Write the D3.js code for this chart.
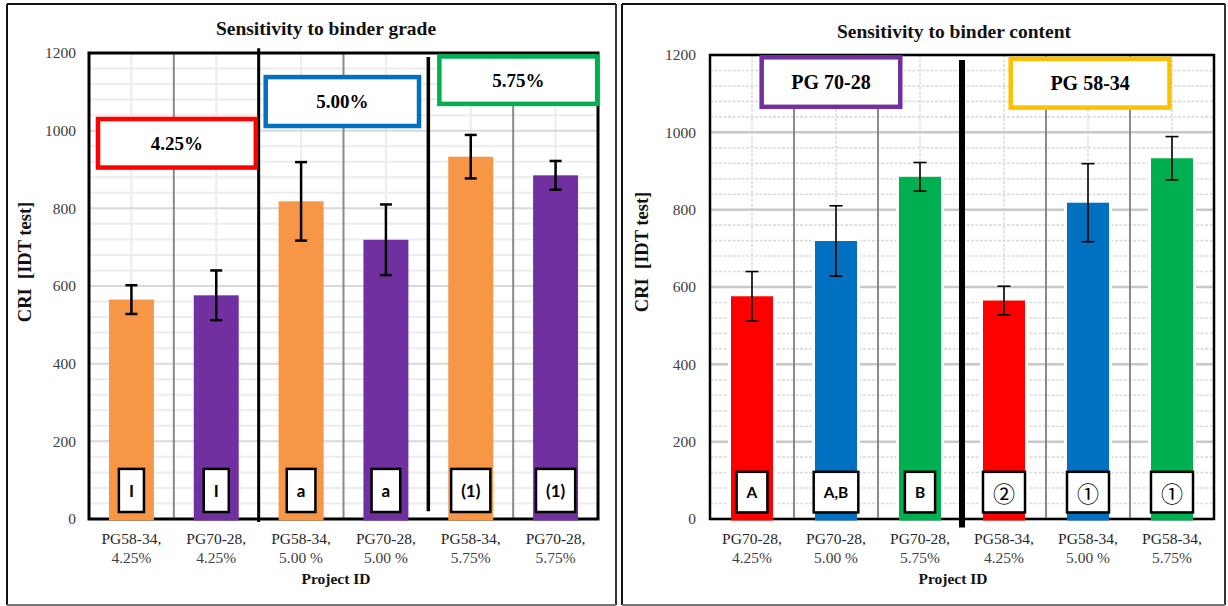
<!DOCTYPE html>
<html>
<head>
<meta charset="utf-8">
<script src="https://cdn.jsdelivr.net/npm/d3@7"></script>
<style>
  body { margin: 0; background: #fff; }
  svg { display: block; }
  text { font-family: "Liberation Serif", "Times New Roman", serif; }
</style>
</head>
<body>
<svg id="chart" width="1228" height="606"></svg>
<script>
// ---- data -------------------------------------------------------------
const binders = ["PG58-34", "PG70-28"];
const contents = ["4.25%", "5.00 %", "5.75%"];
const contentTags = ["4.25%", "5.00%", "5.75%"];
const binderTags = ["PG 70-28", "PG 58-34"];

// mean CRI and error half-width per binder content (4.25, 5.00, 5.75 %)
const criPG5834 = [565, 818, 933];
const errPG5834 = [37, 101, 56];
const criPG7028 = [576, 719, 885];
const errPG7028 = [64, 91, 37];

// statistical grouping letters
const gradeGroups = ["I", "a", "(1)"];
const contentGroupsPG7028 = ["A", "A,B", "B"];
const contentGroupsPG5834 = ["②", "①", "①"];

const yTicks = [0, 200, 400, 600, 800, 1000, 1200];

// ---- styling ----------------------------------------------------------
const binderColour = { "PG58-34": "#f79646", "PG70-28": "#7030a0" };
const contentColour = ["#ff0000", "#0070c0", "#00b050"];
const binderBoxColour = ["#7030a0", "#ffc000"];

const svg = d3.select("#chart");

// outer panel frames
function panelFrame(x0, y0, x1, y1) {
  const g = svg.append("g");
  g.append("line").attr("x1", x0).attr("y1", y0).attr("x2", x1).attr("y2", y0)
    .attr("stroke", "#111").attr("stroke-width", 2);
  g.append("line").attr("x1", x0).attr("y1", y0).attr("x2", x0).attr("y2", y1)
    .attr("stroke", "#111").attr("stroke-width", 2);
  g.append("line").attr("x1", x1).attr("y1", y0).attr("x2", x1).attr("y2", y1)
    .attr("stroke", "#333").attr("stroke-width", 2);
  g.append("line").attr("x1", x0).attr("y1", y1).attr("x2", x1).attr("y2", y1)
    .attr("stroke", "#777").attr("stroke-width", 2);
}
panelFrame(7, 4, 616, 605);
panelFrame(622, 4, 1225, 605);

// rows for each panel
const valueOf = { "PG58-34": criPG5834, "PG70-28": criPG7028 };
const errOf = { "PG58-34": errPG5834, "PG70-28": errPG7028 };

const gradeRows = [];
contents.forEach((c, i) => {
  binders.forEach(b => {
    gradeRows.push({ name: b + ",", sub: c, value: valueOf[b][i], err: errOf[b][i],
      colour: binderColour[b], tag: gradeGroups[i] });
  });
});

const contentRows = [];
[["PG70-28", contentGroupsPG7028], ["PG58-34", contentGroupsPG5834]].forEach(([b, tags]) => {
  contents.forEach((c, i) => {
    contentRows.push({ name: b + ",", sub: c, value: valueOf[b][i], err: errOf[b][i],
      colour: contentColour[i], tag: tags[i] });
  });
});

function drawPanel(cfg) {
  const g = svg.append("g");
  const rows = cfg.rows;
  const x = d3.scaleBand().domain(rows.map((d, i) => i))
    .range([cfg.x0, cfg.x1]).paddingInner(cfg.pad).paddingOuter(cfg.pad / 2);
  const y = d3.scaleLinear().domain([0, 1200]).range([cfg.y1, cfg.y0]);
  const bw = x.bandwidth();
  const cx = i => x(i) + bw / 2;
  const edge = k => cfg.x0 + x.step() * k;

  // minor gridlines
  const minor = d3.range(40, 1200, 40).filter(v => v % 200 !== 0);
  g.append("g").selectAll("line").data(minor).join("line")
    .attr("x1", cfg.x0).attr("x2", cfg.x1)
    .attr("y1", d => y(d)).attr("y2", d => y(d))
    .attr("stroke", cfg.minorColour).attr("stroke-width", cfg.minorWidth)
    .attr("stroke-dasharray", cfg.minorDash);
  // vertical lines at category centres
  g.append("g").selectAll("line").data(rows).join("line")
    .attr("x1", (d, i) => cx(i)).attr("x2", (d, i) => cx(i))
    .attr("y1", cfg.y0).attr("y2", cfg.y1)
    .attr("stroke", cfg.minorColour).attr("stroke-width", cfg.minorWidth)
    .attr("stroke-dasharray", cfg.minorDash);
  // major gridlines
  g.append("g").selectAll("line").data(yTicks).join("line")
    .attr("x1", cfg.x0).attr("x2", cfg.x1)
    .attr("y1", d => y(d)).attr("y2", d => y(d))
    .attr("stroke", cfg.majorColour).attr("stroke-width", cfg.majorWidth);
  // grey category boundaries
  g.append("g").selectAll("line").data(cfg.greyEdges).join("line")
    .attr("x1", edge).attr("x2", edge)
    .attr("y1", cfg.y0).attr("y2", cfg.y1)
    .attr("stroke", "#8a8a8a").attr("stroke-width", 2);

  // plot frame
  g.append("rect").attr("x", cfg.x0).attr("y", cfg.y0)
    .attr("width", cfg.x1 - cfg.x0).attr("height", cfg.y1 - cfg.y0)
    .attr("fill", "none").attr("stroke", "#000").attr("stroke-width", cfg.frameWidth);

  // bars
  if (cfg.halo) {
    g.append("g").selectAll("rect").data(rows).join("rect")
      .attr("x", (d, i) => x(i) - 3).attr("width", bw + 6)
      .attr("y", d => y(d.value) - 2).attr("height", d => y(0) - y(d.value) - 1)
      .attr("fill", "#fff");
  }
  g.append("g").selectAll("rect").data(rows).join("rect")
    .attr("x", (d, i) => x(i)).attr("width", bw)
    .attr("y", d => y(d.value)).attr("height", d => y(0) - y(d.value) + 1.5)
    .attr("fill", d => d.colour);

  // error bars
  const eb = g.append("g").attr("stroke", "#000").attr("stroke-width", cfg.errWidth);
  rows.forEach((d, i) => {
    eb.append("line").attr("x1", cx(i)).attr("x2", cx(i))
      .attr("y1", y(d.value + d.err)).attr("y2", y(d.value - d.err));
    [d.value + d.err, d.value - d.err].forEach(v => {
      eb.append("line").attr("x1", cx(i) - cfg.cap).attr("x2", cx(i) + cfg.cap)
        .attr("y1", y(v)).attr("y2", y(v));
    });
  });

  // black separators between groups
  cfg.separators.forEach(s => {
    g.append("line").attr("x1", edge(s.at)).attr("x2", edge(s.at))
      .attr("y1", y(s.top)).attr("y2", y(s.bottom))
      .attr("stroke", "#000").attr("stroke-width", s.width);
  });

  // grouping letters inside bars
  rows.forEach((d, i) => {
    const tg = g.append("g");
    const isCircled = /[①②]/.test(d.tag);
    const t = tg.append("text").attr("x", cx(i))
      .attr("y", (y(cfg.tagBox[0]) + y(cfg.tagBox[1])) / 2)
      .attr("text-anchor", "middle").attr("dominant-baseline", "central")
      .style("font-family", isCircled ? "'Noto Sans CJK JP', 'DejaVu Sans', sans-serif" : "Lato, 'Liberation Sans', sans-serif")
      .style("font-weight", isCircled ? 400 : 700)
      .style("font-size", isCircled ? "22px" : cfg.tagSize + "px")
      .attr("fill", "#000").text(d.tag);
    const w = t.node().getComputedTextLength() + 2 * cfg.tagPad;
    tg.insert("rect", "text")
      .attr("x", cx(i) - w / 2).attr("width", w)
      .attr("y", y(cfg.tagBox[1])).attr("height", y(cfg.tagBox[0]) - y(cfg.tagBox[1]))
      .attr("fill", "#fff").attr("stroke", "#000").attr("stroke-width", 2.5);
  });

  // group header boxes
  cfg.headers.forEach(h => {
    const x0 = edge(h.from), x1 = edge(h.to);
    g.append("rect").attr("x", x0).attr("y", y(h.top))
      .attr("width", x1 - x0).attr("height", y(h.bottom) - y(h.top))
      .attr("fill", "#fff").attr("stroke", h.colour).attr("stroke-width", 4.5);
    g.append("text").attr("x", (x0 + x1) / 2).attr("y", (y(h.top) + y(h.bottom)) / 2)
      .attr("text-anchor", "middle").attr("dominant-baseline", "central")
      .style("font-weight", 700).style("font-size", cfg.headerSize + "px")
      .attr("fill", "#000").text(h.text);
  });

  // y axis
  const ax = g.append("g").attr("transform", `translate(${cfg.x0},0)`)
    .call(d3.axisLeft(y).tickValues(yTicks).tickSize(0).tickPadding(cfg.tickPad)
      .tickFormat(d3.format("d")));
  ax.select(".domain").remove();
  ax.selectAll("text").style("font-family", "'Liberation Serif', serif")
    .style("font-size", "15.5px").attr("fill", "#404040");

  // category labels
  rows.forEach((d, i) => {
    const t = g.append("text").attr("x", cx(i)).attr("text-anchor", "middle")
      .style("font-size", "15.5px").attr("fill", "#262626");
    t.append("tspan").attr("x", cx(i)).attr("y", 544).text(d.name);
    t.append("tspan").attr("x", cx(i)).attr("y", 563).attr("fill", "#404040").text(d.sub);
  });

  // titles
  g.append("text").attr("x", cfg.titleX).attr("y", cfg.titleY).attr("text-anchor", "middle")
    .style("font-weight", 700).style("font-size", "19.5px").attr("fill", "#111").text(cfg.title);
  g.append("text").attr("x", cfg.xTitleX).attr("y", 584).attr("text-anchor", "middle")
    .style("font-weight", 700).style("font-size", "15.5px").attr("fill", "#111").text("Project ID");
  g.append("text").attr("transform", `translate(${cfg.yTitleX},${cfg.yTitleY}) rotate(-90)`)
    .attr("text-anchor", "middle").attr("dominant-baseline", "central")
    .style("font-weight", 700).style("font-size", "18.5px").attr("fill", "#111")
    .text("CRI\u00a0\u00a0[IDT test]");
}

drawPanel({
  rows: gradeRows, x0: 89, x1: 598, y0: 53, y1: 519, pad: 0.47,
  minorColour: "#ececec", minorWidth: 2, minorDash: null,
  majorColour: "#d9d9d9", majorWidth: 2, frameWidth: 3,
  greyEdges: [1, 3, 5], errWidth: 2.5, cap: 6, halo: false,
  separators: [{ at: 2, top: 1212, bottom: -8, width: 3 },
               { at: 4, top: 1190, bottom: 20, width: 3.5 }],
  tagBox: [18, 129], tagPad: 10, tagSize: 17,
  headers: [
    { from: 0.106, to: 1.966, top: 1030, bottom: 905, colour: contentColour[0], text: contentTags[0] },
    { from: 2.083, to: 3.89, top: 1138, bottom: 1012, colour: contentColour[1], text: contentTags[1] },
    { from: 4.13, to: 5.99, top: 1191, bottom: 1069, colour: contentColour[2], text: contentTags[2] }
  ],
  headerSize: 19, tickPad: 13,
  title: "Sensitivity to binder grade", titleX: 326, titleY: 35, xTitleX: 336, yTitleX: 25, yTitleY: 262
});

drawPanel({
  rows: contentRows, x0: 710, x1: 1214, y0: 55, y1: 519, pad: 0.5,
  minorColour: "#dcdcdc", minorWidth: 1.6, minorDash: "3,1.5",
  majorColour: "#c8c8c8", majorWidth: 2.5, frameWidth: 2.5,
  greyEdges: [1, 2, 4, 5], errWidth: 1.6, cap: 6.5, halo: true,
  separators: [{ at: 3, top: 1187, bottom: -22, width: 6 }],
  tagBox: [17, 122], tagPad: 10, tagSize: 15.5,
  headers: [
    { from: 0.615, to: 2.265, top: 1194, bottom: 1066, colour: binderBoxColour[0], text: binderTags[0] },
    { from: 3.58, to: 5.47, top: 1190, bottom: 1064, colour: binderBoxColour[1], text: binderTags[1] }
  ],
  headerSize: 20, tickPad: 14,
  title: "Sensitivity to binder content", titleX: 954, titleY: 38, xTitleX: 953, yTitleX: 642, yTitleY: 252
});
</script>
</body>
</html>
